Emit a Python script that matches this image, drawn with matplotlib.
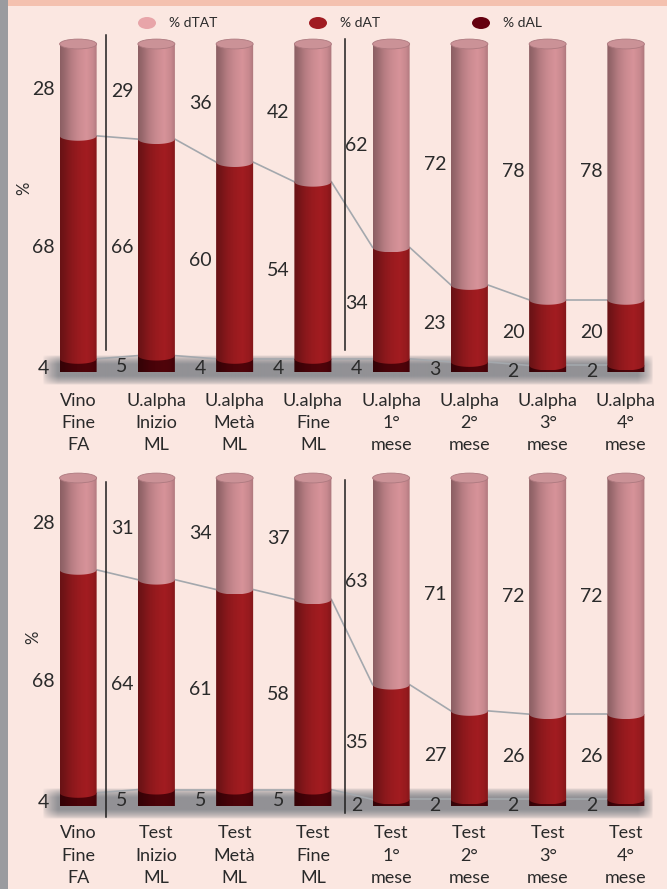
import numpy as np
import matplotlib.pyplot as plt
from matplotlib.patches import Ellipse, Rectangle, PathPatch
from matplotlib.path import Path
from matplotlib.colors import to_rgb

W, H, DPI = 667, 889, 100
BG = '#fbe7e1'
TEXT_COLOR = '#2a2a2a'
plt.rcParams['font.family'] = ['Lato', 'DejaVu Sans']

SERIES = ['% dTAT', '% dAT', '% dAL']
BAR_COLORS = {'dTAT': '#c7888e', 'dAT': '#961a1e', 'dAL': '#4a0309'}
LEGEND_COLORS = ['#e8a5a9', '#a01c22', '#65000f']

# --- data ---
labels_top = ['Vino\nFine\nFA', 'U.alpha\nInizio\nML', 'U.alpha\nMetà\nML', 'U.alpha\nFine\nML',
              'U.alpha\n1°\nmese', 'U.alpha\n2°\nmese', 'U.alpha\n3°\nmese', 'U.alpha\n4°\nmese']
dtat_top = [28, 29, 36, 42, 62, 72, 78, 78]
dat_top = [68, 66, 60, 54, 34, 23, 20, 20]
dal_top = [4, 5, 4, 4, 4, 3, 2, 2]

labels_bottom = ['Vino\nFine\nFA', 'Test\nInizio\nML', 'Test\nMetà\nML', 'Test\nFine\nML',
                 'Test\n1°\nmese', 'Test\n2°\nmese', 'Test\n3°\nmese', 'Test\n4°\nmese']
dtat_bottom = [28, 31, 34, 37, 63, 71, 72, 72]
dat_bottom = [68, 64, 61, 58, 35, 27, 26, 26]
dal_bottom = [4, 5, 5, 5, 2, 2, 2, 2]

BAR_W = 0.473
CAP_H = 3.0      # ellipse height in data units
LABEL_DX = -0.44
SEPARATORS = [0.36, 3.41]

PROFILE = np.interp(np.linspace(0, 1, 64),
                    [0, 0.1, 0.3, 0.5, 0.7, 0.88, 1.0],
                    [0.70, 0.76, 0.92, 1.02, 1.08, 1.0, 0.86])


def cyl_path(xc, y0, y1):
    t = np.linspace(np.pi, 2 * np.pi, 40)
    arc = np.column_stack([xc + BAR_W / 2 * np.cos(t), y0 + CAP_H / 2 * np.sin(t)])
    verts = [(xc - BAR_W / 2, y1)] + [tuple(p) for p in arc] + [(xc + BAR_W / 2, y1), (xc - BAR_W / 2, y1)]
    codes = [Path.MOVETO] + [Path.LINETO] * (len(verts) - 2) + [Path.CLOSEPOLY]
    return Path(verts, codes)


def draw_segment(ax, xc, y0, y1, color, z):
    base = np.array(to_rgb(color))
    img = np.clip(base[None, None, :] * PROFILE[None, :, None], 0, 1)
    im = ax.imshow(img, extent=(xc - BAR_W / 2, xc + BAR_W / 2, y0 - CAP_H / 2, y1),
                   aspect='auto', interpolation='bilinear', zorder=z)
    clip = PathPatch(cyl_path(xc, y0, y1), transform=ax.transData, facecolor='none', edgecolor='none')
    im.set_clip_path(clip)
    im.set_clip_box(None)


def draw_shadow(ax, x0, x1, y0, y1):
    xx = np.linspace(0, 1, 400)
    yy = np.linspace(0, 1, 60)
    ax_ = np.clip(np.minimum(xx / 0.025, (1 - xx) / 0.025), 0, 1)
    ay_ = np.clip(np.minimum(yy / 0.3, (1 - yy) / 0.3), 0, 1)
    alpha = np.outer(ay_, ax_) ** 0.6 * 0.9
    rgba = np.zeros((60, 400, 4))
    rgba[..., :3] = to_rgb('#86888d')
    rgba[..., 3] = alpha
    im = ax.imshow(rgba, extent=(x0, x1, y0, y1), aspect='auto', interpolation='bilinear', zorder=1)
    im.set_clip_on(False)


def draw_panel(ax, labels, dtat, dat, dal, sep_top, sep_bottom, ylab_xy, shadow_y, pad):
    x = np.arange(len(labels))
    for i in x:
        total = dtat[i] + dat[i] + dal[i]
        a = dal[i] / total * 100
        b = (dal[i] + dat[i]) / total * 100
        draw_segment(ax, i, 0, a, BAR_COLORS['dAL'], 3)
        draw_segment(ax, i, a, b, BAR_COLORS['dAT'], 4)
        draw_segment(ax, i, b, 100, BAR_COLORS['dTAT'], 5)
        ax.add_patch(Ellipse((i, 100), BAR_W, CAP_H, facecolor='#cb9297',
                             edgecolor='#ad797f', lw=0.6, zorder=6, clip_on=False))
        ax.text(i + LABEL_DX, (b + 100) / 2, str(dtat[i]), ha='center', va='center',
                fontsize=14, color=TEXT_COLOR, zorder=7)
        ax.text(i + LABEL_DX, (a + b) / 2, str(dat[i]), ha='center', va='center',
                fontsize=14, color=TEXT_COLOR, zorder=7)
        ax.text(i + LABEL_DX, a / 2 - 0.8, str(dal[i]), ha='center', va='center',
                fontsize=14, color=TEXT_COLOR, zorder=7)

    totals = [t + u + v for t, u, v in zip(dtat, dat, dal)]
    dal_cum = [v / t * 100 for v, t in zip(dal, totals)]
    dat_cum = [(v + u) / t * 100 for v, u, t in zip(dal, dat, totals)]
    for i in x[:-1]:
        for cum in (dal_cum, dat_cum):
            ax.plot([i + BAR_W / 2, i + 1 - BAR_W / 2], [cum[i], cum[i + 1]],
                    color='#a4a8ad', lw=1.2, zorder=2)

    draw_shadow(ax, -0.46, 7.36, shadow_y[0], shadow_y[1])

    for sx, yt, yb in zip(SEPARATORS, sep_top, sep_bottom):
        ax.plot([sx, sx], [yb, yt], color='#1e1e1e', lw=1.1, zorder=7, clip_on=False)

    ax.set_xlim(-0.5, 7.5)
    ax.set_ylim(0, 100)
    ax.set_xticks(x)
    ax.set_xticklabels(labels, fontsize=13, color=TEXT_COLOR, linespacing=1.47)
    ax.tick_params(axis='x', length=0, pad=pad)
    ax.set_yticks([])
    for s in ax.spines.values():
        s.set_visible(False)
    ax.patch.set_visible(False)
    ax.set_ylabel('%', fontsize=12, color=TEXT_COLOR)
    ax.yaxis.set_label_coords(*ylab_xy)


fig = plt.figure(figsize=(W / DPI, H / DPI), dpi=DPI, facecolor=BG)

ax1 = fig.add_axes([39 / W, 1 - 372 / H, 626 / W, 328 / H])
draw_panel(ax1, labels_top, dtat_top, dat_top, dal_top,
           sep_top=[102.7, 101.5], sep_bottom=[6.7, 6.7], ylab_xy=(-0.01, 0.56),
           shadow_y=(-4.0, 5.0), pad=15)

ax2 = fig.add_axes([39 / W, 1 - 806 / H, 626 / W, 328 / H])
draw_panel(ax2, labels_bottom, dtat_bottom, dat_bottom, dal_bottom,
           sep_top=[98.8, 99.4], sep_bottom=[-3.4, -2.2], ylab_xy=(0.004, 0.515),
           shadow_y=(-4.0, 5.2), pad=14)

# header strip and left border
fig.add_artist(Rectangle((0, 1 - 6 / H), 1, 6 / H, transform=fig.transFigure,
                         facecolor='#f4c1af', edgecolor='none'))
fig.add_artist(Rectangle((0, 0), 8 / W, 1, transform=fig.transFigure,
                         facecolor='#9a9b9f', edgecolor='none'))

# legend
for name, col, lx in zip(SERIES, LEGEND_COLORS, [147, 318, 481]):
    fig.add_artist(Ellipse((lx / W, 1 - 23 / H), 18 / W, 12 / H, transform=fig.transFigure,
                           facecolor=col, edgecolor='none'))
    fig.text((lx + 22) / W, 1 - 23 / H, name, ha='left', va='center', fontsize=10, color=TEXT_COLOR)

fig.savefig('out.png', dpi=DPI, facecolor=BG)
